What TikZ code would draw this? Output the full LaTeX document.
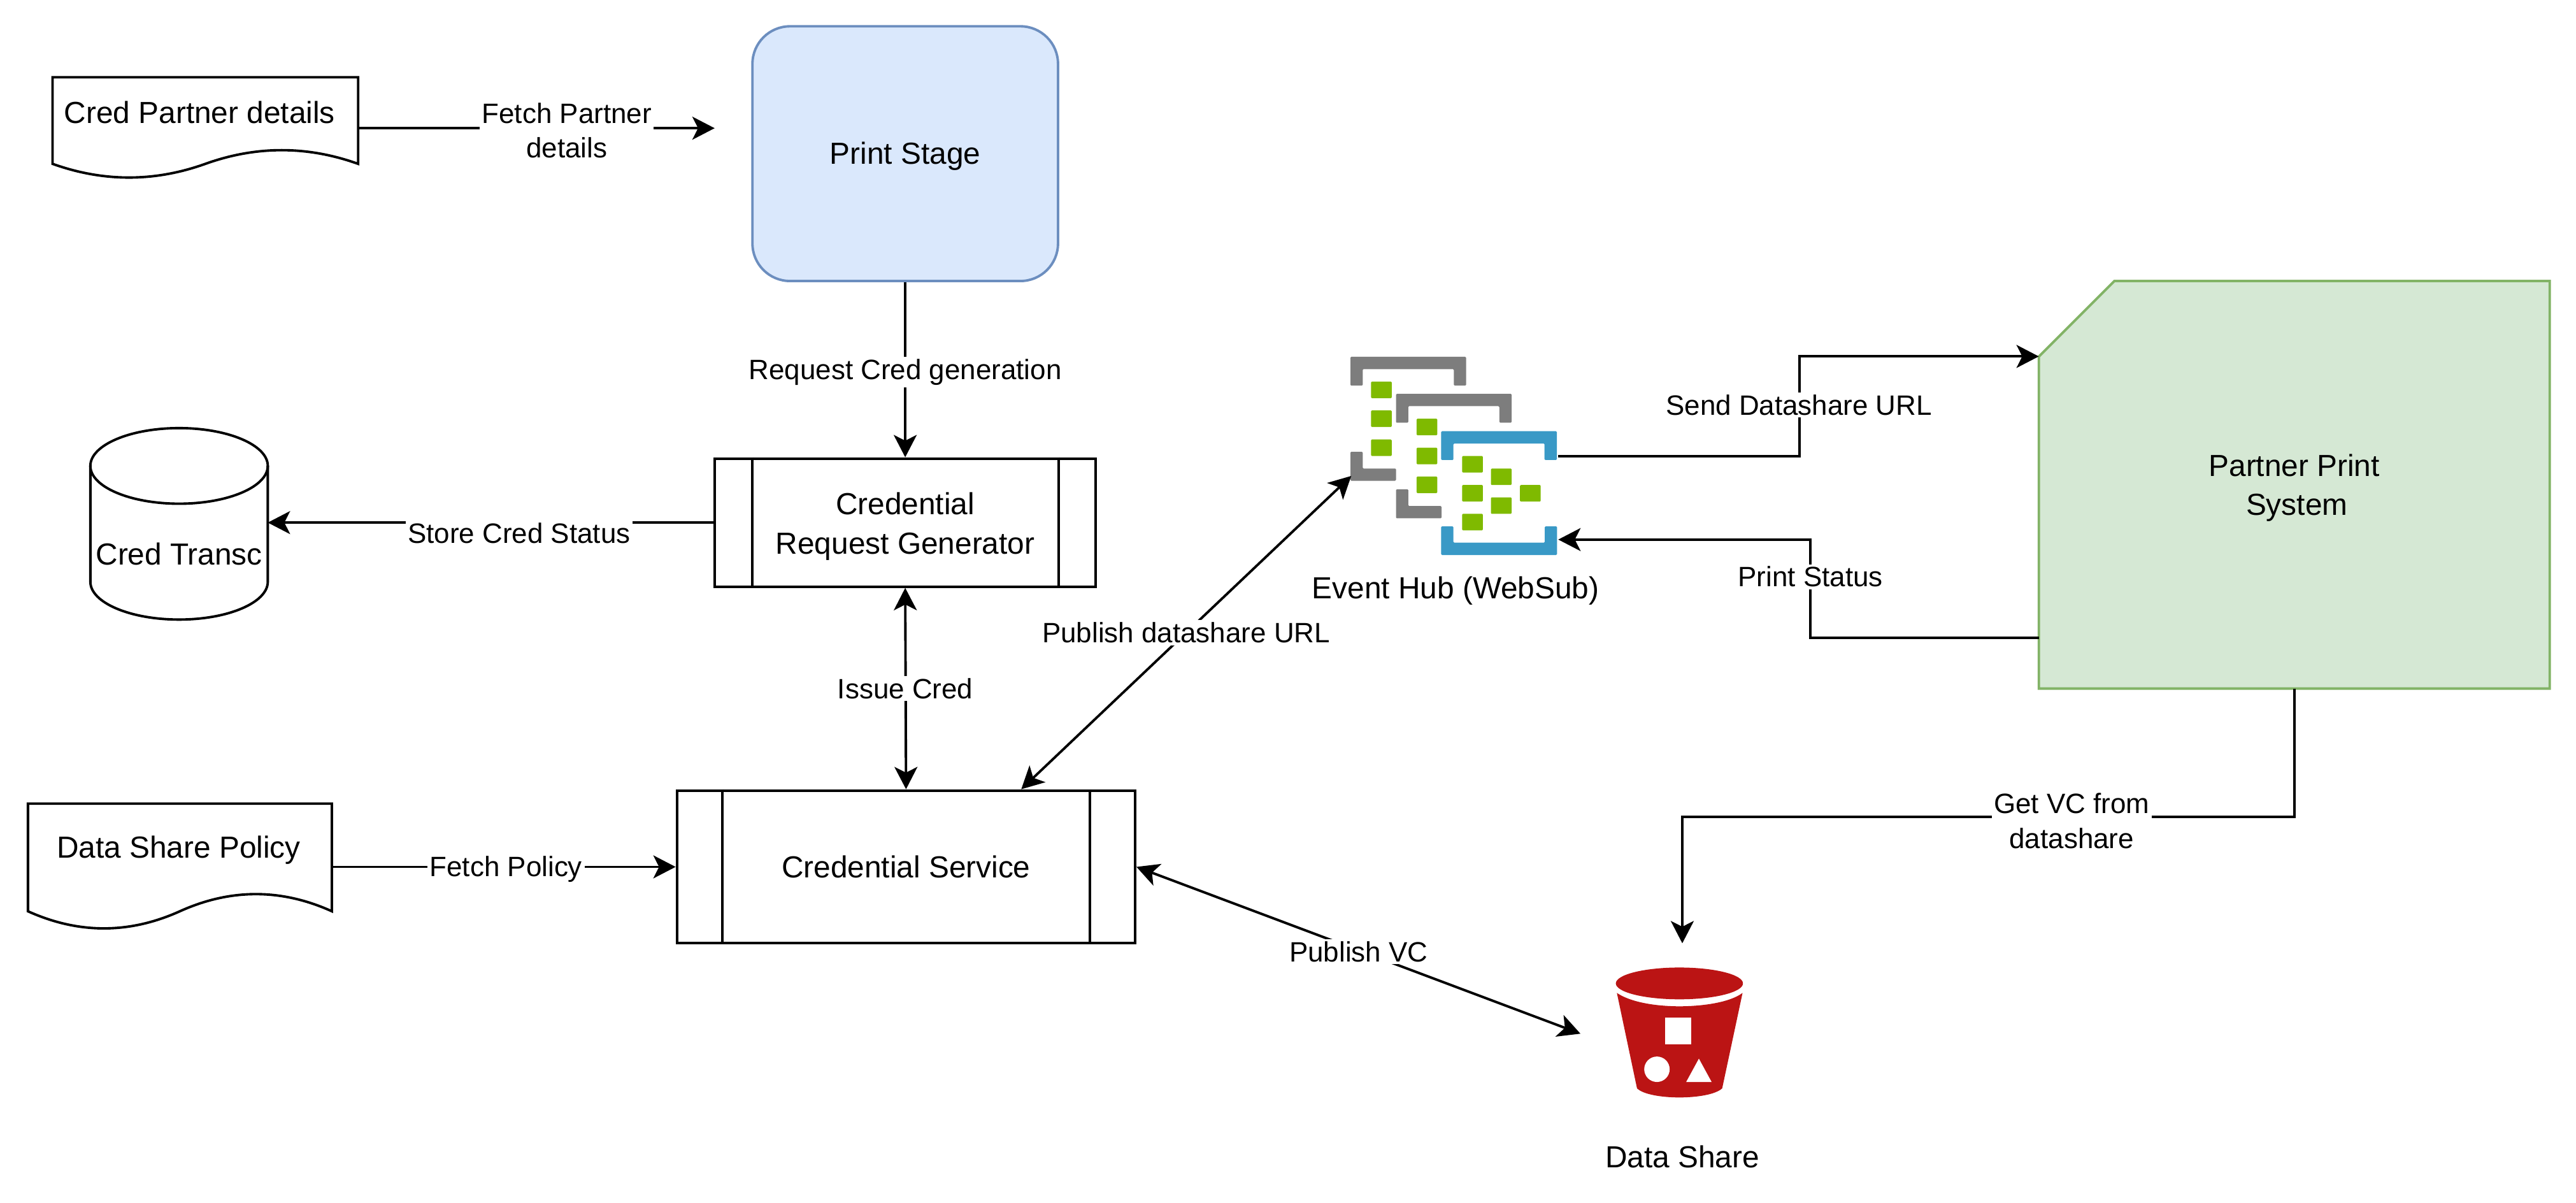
\documentclass[tikz,border=0pt]{standalone}
\usepackage{xcolor}
\usepackage{fontspec}
\setmainfont{Liberation Sans}
\usetikzlibrary{arrows.meta, positioning, calc}
\definecolor{stagefill}{HTML}{DAE8FC}
\definecolor{stageline}{HTML}{6C8EBF}
\definecolor{cardfill}{HTML}{D5E8D4}
\definecolor{cardline}{HTML}{82B366}
\definecolor{hubgray}{HTML}{7D7D7D}
\definecolor{hubgreen}{HTML}{7FBA00}
\definecolor{hubblue}{HTML}{3999C6}
\definecolor{bucketred}{RGB}{187,20,20}
\newcommand{\ux}{0.025791cm}

\begin{document}
\begin{tikzpicture}[x=\ux,y=-\ux,line width=1.1pt,
    >={Stealth[length=0.35cm,width=0.36cm,inset=0.09cm]},
    boxtext/.style={font=\fontsize{13.6}{17.5}\selectfont,align=center,inner sep=0pt},
    edgelabel/.style={font=\fontsize{12.5}{15.4}\selectfont,align=center,fill=white,inner sep=1pt},
    process/.style={draw,boxtext},
    hollow/.style={inner sep=0pt,outer sep=0pt}]
    \useasboundingbox (0,0) rectangle (1568,732);

    % Documents
    \draw (32,47) -- (218,47) -- (218,99.7) .. controls (187,88.6) and (156,88.6) .. (125,99.7)
        .. controls (94,110.8) and (63,110.8) .. (32,99.7) -- cycle;
    \node[hollow,minimum width=186*\ux,minimum height=62*\ux,
        label={[boxtext,xshift=-0.09cm,yshift=0.245cm]center:Cred Partner details}] (partnerdoc) at (125,78) {};
    \draw (17,489) -- (202,489) -- (202,554.5) .. controls (171.2,540.6) and (140.3,540.6) .. (109.5,554.5)
        .. controls (78.7,568.4) and (47.8,568.4) .. (17,554.5) -- cycle;
    \node[hollow,minimum width=185*\ux,minimum height=77*\ux,
        label={[boxtext,xshift=-0.02cm,yshift=0.26cm]center:Data Share Policy}] (policydoc) at (109.5,527.5) {};

    % Print stage and processes
    \node[process,draw=stageline,fill=stagefill,rounded corners=0.59cm,minimum width=186*\ux,minimum height=155*\ux,
        label={[boxtext,yshift=-0.035cm]center:Print Stage}] (stage) at (551,93.5) {};
    \node[process,minimum width=232*\ux,minimum height=78*\ux,
        label={[boxtext,yshift=-0.06cm]center:Credential\\Request Generator}] (reqgen) at (551,318) {};
    \node[process,minimum width=279*\ux,minimum height=93*\ux] (svc) at (551.5,527.5) {Credential Service};
    \foreach \n/\d in {reqgen/23.5,svc/28.5} {
        \draw ($(\n.north west)+(\d,0)$) -- ($(\n.south west)+(\d,0)$);
        \draw ($(\n.north east)+(-\d,0)$) -- ($(\n.south east)+(-\d,0)$);
    }

    % Cred transactions store
    \draw (55,283.5) -- (55,354) .. controls (55,366.7) and (79.2,377) .. (109,377)
        .. controls (138.8,377) and (163,366.7) .. (163,354) -- (163,283.5);
    \draw (109,283.5) ellipse [x radius=54,y radius=23];
    \node[hollow,minimum width=108*\ux,minimum height=118*\ux,
        label={[boxtext,yshift=-0.49cm]center:Cred Transc}] (transc) at (109,318) {};

    % Partner system
    \draw[draw=cardline,fill=cardfill] (1287,171) -- (1552,171) -- (1552,419) -- (1241,419) -- (1241,217) -- cycle;
    \node[hollow,minimum width=311*\ux,minimum height=248*\ux,
        label={[boxtext,yshift=-0.05cm]center:Partner Print\\ \hspace*{0.08cm}System}] (card) at (1396.5,295) {};

    % Event hub icon
    \node[hollow,minimum width=126*\ux,minimum height=121*\ux] (hub) at (885.5,277.5) {};
    \node[boxtext] (hubname) at (886,359.5) {Event Hub (WebSub)};
    \begin{scope}[shift={(794.9,193.9)},x=0.003333cm,y=-0.003333cm,rounded corners=0.4pt]
        \foreach \bx/\by/\c in {210/180/hubgray,425/355/hubgray,638/531/hubblue}
            \fill[\c] (\bx,\by) -- ++(546,0) -- ++(0,136) -- ++(-58,0) -- ++(0,-78)
                -- ++(-430,0) -- ++(0,78) -- ++(-58,0) -- cycle;
        \foreach \bx/\by in {210/628,425/805}
            \fill[hubgray] (\bx,\by) -- ++(58,0) -- ++(0,79) -- ++(157,0) -- ++(0,58) -- ++(-215,0) -- cycle;
        \fill[hubblue] (638,980) -- ++(58,0) -- ++(0,77) -- ++(431,0) -- ++(0,-77) -- ++(58,0)
            -- ++(0,135) -- ++(-547,0) -- cycle;
        \foreach \gx/\gy in {307/297,307/433,307/570,522/472,522/609,522/745,
            737/648,737/785,737/921,873/707,873/843,1010/785}
            \fill[hubgreen] (\gx,\gy) rectangle ++(98,78);
    \end{scope}

    % Bucket icon
    \node[hollow,minimum width=124*\ux,minimum height=110*\ux] (bucket) at (1024,629) {};
    \node[boxtext] (bucketname) at (1024,704) {Data Share};
    \begin{scope}[shift={(950,573.9)},x=0.003333cm,y=-0.003333cm]
        \fill[bucketred] (265,235) .. controls (340,285) and (470,298) .. (560,298)
            .. controls (650,298) and (790,285) .. (858,235) -- (762,685)
            .. controls (730,715) and (640,728) .. (560,728)
            .. controls (480,728) and (390,715) .. (360,685) -- cycle;
        \fill[bucketred] (560,190) ellipse [x radius=300,y radius=75];
        \fill[white] (492,352) rectangle (617,477);
        \fill[white] (454,595) circle [radius=60];
        \fill[white] (652,545) -- (712,655) -- (592,655) -- cycle;
    \end{scope}

    % Connectors
    \coordinate (stagein) at (435,78);
    \coordinate (svcpub) at ($(svc.north west)!0.75!(svc.north east)$);
    \coordinate (hubpub) at ($(hub.north west)!0.6!(hub.south west)$);
    \coordinate (hubback) at ($(hub.north east)!0.92!(hub.south east)$);
    \coordinate (cardin) at ($(card.north west)!0.185!(card.south west)$);
    \coordinate (cardout) at ($(card.north west)!0.875!(card.south west)$);
    \draw[->] (partnerdoc.east) -- (stagein);
    \draw[->] (stage.south) -- (reqgen.north);
    \draw[->] (reqgen.west) -- (transc.east);
    \draw[<->] (reqgen.south) -- (svc.north);
    \draw[->] (policydoc.east) -- (svc.west);
    \draw[<->] (svcpub) -- (hubpub);
    \draw[<->] (svc.east) -- (bucket.west);
    \draw[->] (hub.east) -- ++(147,0) |- (cardin);
    \draw[->] (cardout) -- ++(-139,0) |- (hubback);
    \draw[->] (card.south) -- ++(0,78) -| (bucket.north);

    % Connector labels
    \node[edgelabel] (fetchpartner) at (345,79.5) {Fetch Partner\\details};
    \node[edgelabel] (reqcred) at (551,226.5) {Request Cred generation};
    \node[edgelabel] (storestatus) at (316,324.5) {Store Cred Status};
    \node[edgelabel] (issuecred) at (551,419) {Issue Cred};
    \node[edgelabel] (fetchpolicy) at (308,529) {Fetch Policy};
    \node[edgelabel] (pubshare) at (722,385) {Publish datashare URL};
    \node[edgelabel] (pubvc) at (827,579) {Publish VC};
    \node[edgelabel] (sendurl) at (1095,246.5) {Send Datashare URL};
    \node[edgelabel] (printstatus) at (1102,351) {Print Status};
    \node[edgelabel] (getvc) at (1261,499.5) {Get VC from\\datashare};
\end{tikzpicture}
\end{document}
